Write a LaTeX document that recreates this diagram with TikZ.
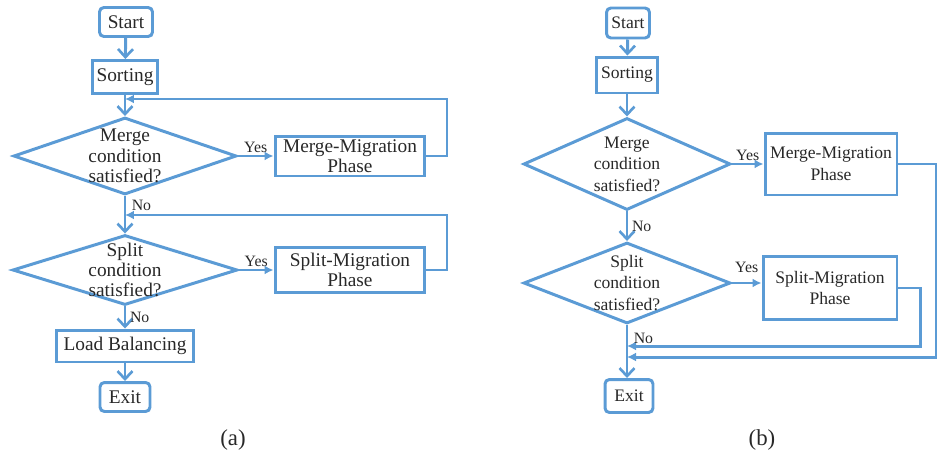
\documentclass[tikz,border=0pt]{standalone}
\usepackage{fontspec}
\setmainfont{Liberation Serif}
\usepackage{tikz}
\usetikzlibrary{shapes.geometric}
\usetikzlibrary{arrows.meta}

\definecolor{flowblue}{RGB}{91,155,213}
\definecolor{txtgray}{RGB}{40,40,40}

\tikzset{
  term/.style={draw=flowblue, line width=1.7pt, rounded corners=2.5pt, inner sep=0pt, text=txtgray},
  proc/.style={draw=flowblue, line width=1.7pt, inner sep=0pt, align=center, text=txtgray},
  decide/.style={draw=flowblue, line width=1.7pt, diamond, inner sep=0pt},
  dtext/.style={align=center, inner sep=0pt, text=txtgray},
  flow/.style={draw=flowblue, line width=1.7pt, -{Straight Barb[length=1.6mm, width=3mm, line width=1.5pt]}},
  back/.style={draw=flowblue, line width=1.7pt, -{Latex[length=1.8mm, width=1.8mm]}},
  lbl/.style={font=\fontsize{9}{10}\selectfont, text=txtgray, inner sep=1pt},
}

\begin{document}
\begin{tikzpicture}[x=0.02cm, y=-0.02cm]
    \useasboundingbox (0,0) rectangle (937,457);

    % Place the nodes of (a)
    \begin{scope}[font=\fontsize{11}{11.5}\selectfont]
    \node[term, minimum width=1.06cm, minimum height=0.58cm] (startA) at (126,22) {Start};
    \node[proc, minimum width=1.3cm, minimum height=0.66cm] (sortA) at (125,77) {Sorting};
    \node[decide, minimum width=4.46cm, minimum height=1.54cm] (mergeA) at (125,156) {};
    \node[dtext] (mergeAtxt) at (mergeA) {Merge\\condition\\satisfied?};
    \node[proc, minimum width=3.0cm, minimum height=0.8cm] (mmigA) at (350,156) {Merge-Migration\\Phase};
    \node[decide, minimum width=4.5cm, minimum height=1.4cm] (splitA) at (125,270) {};
    \node[dtext] (splitAtxt) at (splitA) {Split\\condition\\satisfied?};
    \node[proc, minimum width=3.0cm, minimum height=0.9cm] (smigA) at (350,270) {Split-Migration\\Phase};
    \node[proc, minimum width=2.74cm, minimum height=0.64cm] (loadA) at (125,346) {Load Balancing};
    \node[term, minimum width=1.0cm, minimum height=0.58cm] (exitA) at (125,397) {Exit};
    \end{scope}
    \node[text=txtgray, font=\fontsize{13}{14}\selectfont] (capA) at (233,440) {(a)};

    % Corners of the loops in (a)
    \coordinate (ra1) at (447,99);
    \coordinate (ja1) at (125,99);
    \coordinate (ra2) at (447,215);
    \coordinate (ja2) at (125,215);

    % Draw the arrows of (a)
    \draw[flow] (startA) -- (sortA);
    \draw[flow] (sortA) -- (mergeA);
    \draw[back] (mergeA.east) -- node[lbl, above] (yesA1) {Yes} (mmigA.west);
    \draw[back] (mmigA.east) -| (ra1) -- (ja1);
    \draw[flow] (mergeA.south) -- node[lbl, pos=0.25, right=2pt] (noA1) {No} (splitA.north);
    \draw[back] (splitA.east) -- node[lbl, above] (yesA2) {Yes} (smigA.west);
    \draw[back] (smigA.east) -| (ra2) -- (ja2);
    \draw[flow] (splitA.south) -- node[lbl, right=1pt] (noA2) {No} (loadA.north);
    \draw[flow] (loadA) -- (exitA);

    % Place the nodes of (b)
    \begin{scope}[font=\fontsize{10}{12.3}\selectfont]
    \node[term, minimum width=0.86cm, minimum height=0.6cm] (startB) at (628,23) {Start};
    \node[proc, minimum width=1.22cm, minimum height=0.72cm] (sortB) at (627,75) {Sorting};
    \node[decide, minimum width=4.14cm, minimum height=1.84cm] (mergeB) at (627,164) {};
    \node[dtext] (mergeBtxt) at (mergeB) {Merge\\condition\\satisfied?};
    \node[proc, minimum width=2.64cm, minimum height=1.24cm] (mmigB) at (831,164) {Merge-Migration\\Phase};
    \node[decide, minimum width=4.14cm, minimum height=1.62cm] (splitB) at (627,283) {};
    \node[dtext] (splitBtxt) at (splitB) {Split\\condition\\satisfied?};
    \node[proc, minimum width=2.68cm, minimum height=1.26cm] (smigB) at (830,288) {Split-Migration\\Phase};
    \node[term, minimum width=0.96cm, minimum height=0.66cm] (exitB) at (629,396) {Exit};
    \end{scope}
    \node[text=txtgray, font=\fontsize{13}{14}\selectfont] (capB) at (762,440) {(b)};

    % Corners of the loops in (b)
    \coordinate (rb1) at (920,346);
    \coordinate (jb1) at (627,346);
    \coordinate (rb2) at (936,357);
    \coordinate (jb2) at (627,357);

    % Draw the arrows of (b)
    \draw[flow] (startB) -- (sortB);
    \draw[flow] (sortB) -- (mergeB);
    \draw[back] (mergeB.east) -- node[lbl, above] (yesB1) {Yes} (mmigB.west);
    \draw[flow] (mergeB.south) -- node[lbl, right=1pt] (noB1) {No} (splitB.north);
    \draw[back] (splitB.east) -- node[lbl, above=4pt] (yesB2) {Yes} (splitB.east -| smigB.west);
    \draw[back] (smigB.east) -| (rb1) -- (jb1);
    \draw[back] (mmigB.east) -| (rb2) -- (jb2);
    \draw[flow] (splitB.south) -- node[lbl, pos=0.25, right=2pt] (noB2) {No} (splitB.south |- exitB.north);

\end{tikzpicture}
\end{document}
